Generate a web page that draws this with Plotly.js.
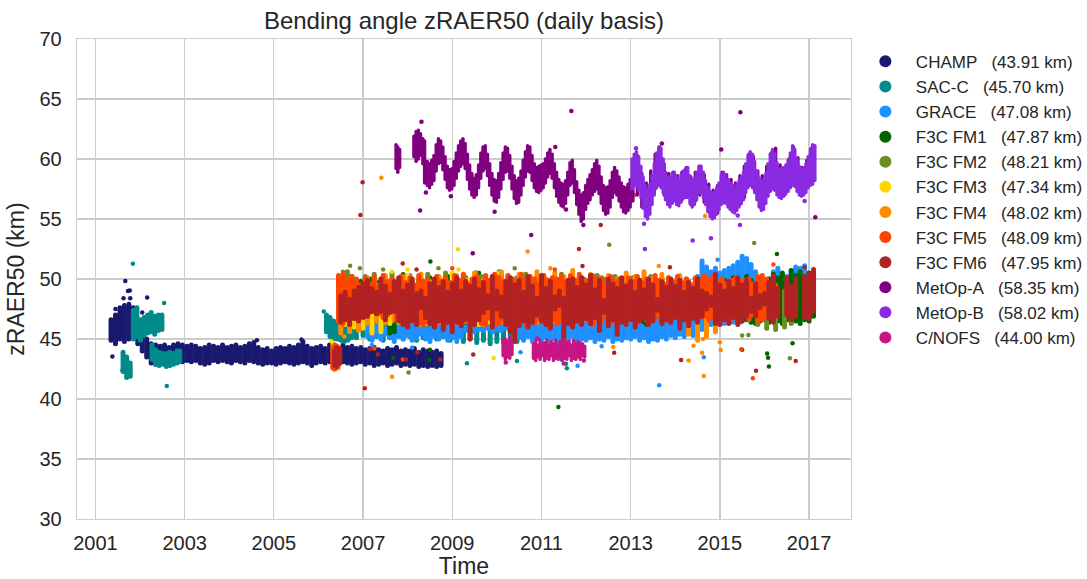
<!DOCTYPE html>
<html><head><meta charset="utf-8">
<script src="https://cdn.plot.ly/plotly-3.0.1.min.js"></script>
<style>html,body{margin:0;padding:0;background:#fff;} #chart .scatterlayer .js-line{stroke-linecap:round;}</style>
</head><body><div id="chart" style="width:1087px;height:579px;"></div>
<script>
// ---------- legend labels ----------
const seriesNames = ['CHAMP','SAC-C','GRACE','F3C FM1','F3C FM2','F3C FM3','F3C FM4','F3C FM5','F3C FM6','MetOp-A','MetOp-B','C/NOFS'];
const seriesMeans = ['43.91','45.70','47.08','47.87','48.21','47.34','48.02','48.09','47.95','58.35','58.02','44.00'];
const seriesColors = ['#191970','#008B8B','#1E90FF','#006400','#6B8E23','#FFD700','#FF8C00','#FF4500','#B22222','#800080','#8A2BE2','#C71585'];
const xTickYears = [2001,2003,2005,2007,2009,2011,2013,2015,2017];

// ---------- CHAMP (daily clouds read as vertical extents) ----------
const champX = [2001.35,2001.45,2001.55,2001.65,2001.75,2001.85,2001.95,2002.05,2002.15,2002.25,2002.35,2002.45,2002.55,2002.65,2002.75,2002.85,2002.95,2003.05,2003.15,2003.25,2003.35,2003.45,2003.55,2003.65,2003.75,2003.85,2003.95,2004.05,2004.15,2004.25,2004.35,2004.45,2004.55,2004.65,2004.75,2004.85,2004.95,2005.05,2005.15,2005.25,2005.35,2005.45,2005.55,2005.65,2005.75,2005.85,2005.95,2006.05,2006.15,2006.25,2006.35,2006.45,2006.55,2006.65,2006.75,2006.85,2006.95,2007.05,2007.15,2007.25,2007.35,2007.45,2007.55,2007.65,2007.75,2007.85,2007.95,2008.05,2008.15,2008.25,2008.35,2008.45,2008.55,2008.65,2008.75];
const champLo = [44.9,44.6,45.0,44.8,45.0,45.2,44.6, 44.0,43.5,43.0,42.9,43.0,43.1,43.0,43.2,43.2,43.1, 43.2,43.1,43.2,43.0,42.9,43.0,43.2,43.1,43.2,43.1, 43.0,43.2,43.1,43.0,43.2,43.1,43.0,42.9,43.0,43.0, 42.9,43.0,43.1,43.0,42.9,43.0,43.1,43.0,42.8,43.0, 43.1,43.0,43.1,43.0,43.0,43.1,43.0,42.9,43.0,43.1, 42.9,43.0,42.8,42.9,43.0,42.8,42.9,43.0,42.8,42.9, 42.8,42.9,42.7,42.8,42.7,42.8,42.7,42.8];
const champHi = [46.6,47.0,47.6,47.8,47.9,47.6,46.3, 45.6,45.0,44.6,44.5,44.4,44.5,44.3,44.5,44.6,44.5, 44.4,44.5,44.4,44.2,44.3,44.5,44.4,44.3,44.5,44.3, 44.4,44.5,44.3,44.4,44.6,44.7,44.3,44.1,44.2,44.0, 44.2,44.3,44.2,44.4,44.3,44.5,44.8,44.4,44.2,44.3, 44.4,44.2,44.5,44.3,44.2,44.5,44.3,44.4,44.2,44.3, 44.1,44.2,44.3,44.1,44.0,44.2,44.1,44.3,44.0,44.1, 44.0,44.2,43.9,44.1,44.0,43.9,44.0,43.8];
const champOutX = [2001.38,2001.61,2001.67,2001.73,2001.77,2001.63,2001.78,2002.16,2004.62,2005.62,2002.05,2001.45];
const champOutY = [43.55,42.4,49.83,49.0,49.05,48.4,48.4,48.45,44.9,44.95,47.2,47.5];

// ---------- SAC-C ----------
const sacX = [2001.62,2001.70,2001.78, 2001.85,2001.93,2002.01,2002.09,2002.17,2002.25,2002.33,2002.41,2002.49, 2002.27,2002.35,2002.43,2002.51,2002.59,2002.67,2002.75,2002.83,2002.89, 2006.18,2006.26,2006.34,2006.42,2006.50,2006.58,2006.66,2006.74, 2006.85,2007.0,2007.15,2007.3,2007.45,2007.6,2007.75,2007.9,2008.05,2008.2,2008.35,2008.5,2008.65,2008.8,2008.95,2009.1,2009.25,2009.4,2009.55,2009.7,2009.85,2010.0,2010.15,2010.3,2010.45];
const sacLo = [42.3,41.8,41.9, 45.0,45.2,44.9,45.3,45.5,45.6,45.4,45.7,45.8, 43.3,42.9,42.8,42.9,42.7,42.8,42.9,43.0,43.1, 45.6,45.2,45.0,45.0,44.9,44.8,44.9,45.1, 45.1,45.3,45.0,45.2,44.9,45.1,45.3,45.0,45.2,44.9,45.1,45.3,45.0,45.2,44.9,45.1,44.8,45.0,44.7,44.9,44.6,44.8,44.7,44.9,44.8];
const sacHi = [43.9,43.5,43.0, 47.4,47.6,46.6,46.8,47.0,47.2,46.9,47.0,47.0, 44.5,44.1,43.9,43.8,43.8,43.9,43.8,44.0,44.0, 47.0,46.8,46.5,46.2,46.0,46.2,46.0,45.8, 46.4,46.5,46.3,46.4,46.2,46.5,46.3,46.4,46.2,46.5,46.3,46.4,46.2,46.5,46.3,46.4,46.2,46.5,46.3,46.4,46.2,46.5,46.3,46.1,46.0];
const sacOutX = [2001.84,2002.54,2002.6,2009.33,2010.45,2011.57,2011.55,2011.45,2006.12];
const sacOutY = [51.28,48.0,41.08,42.97,43.17,42.56,42.94,43.3,47.3];

// ---------- GRACE ----------
const graceX = [2007.1,2007.2,2007.3,2007.4,2007.5,2007.6,2007.7,2007.8,2007.9,
 2008.0,2008.1,2008.2,2008.3,2008.4,2008.5,2008.6,2008.7,2008.8,2008.9,
 2009.0,2009.1,2009.2,2009.3,2009.4,2009.5,2009.6,2009.7,2009.8,2009.9,
 2010.0,2010.1,2010.2,2010.3,2010.4,2010.5,2010.6,2010.7,2010.8,2010.9,
 2011.0,2011.1,2011.2,2011.3,2011.4,2011.5,2011.6,2011.7,2011.8,2011.9,
 2012.0,2012.1,2012.2,2012.3,2012.4,2012.5,2012.6,2012.7,2012.8,2012.9,
 2013.0,2013.1,2013.2,2013.3,2013.4,2013.5,2013.6,2013.7,2013.8,2013.9,
 2014.0,2014.1,2014.2,2014.3,2014.4,2014.5,2014.6,2014.7,2014.8,2014.9,
 2015.0,2015.1,2015.2,2015.3,2015.4,2015.5,2015.6,2015.7,2015.8,2015.9,
 2016.0,2016.1,2016.2,2016.3,2016.4,2016.5,2016.6,2016.7,2016.8,2016.9];
const graceLo = [45.2,44.9,45.3,45.0,45.4,45.1,44.8,45.2,45.0,
 45.3,44.9,45.1,45.4,45.0,44.8,45.2,45.0,45.3,44.9,
 45.1,44.8,45.2,45.7,45.9,45.6,45.8,45.7,45.9,45.6,
 45.8,45.7,45.9,45.6,45.8,45.1,44.9,45.2,44.8,45.0,
 44.9,45.1,44.8,45.0,44.7,45.1,44.9,45.2,44.8,45.0,
 44.9,45.1,44.8,45.0,44.9,45.2,44.8,45.0,44.9,45.1,
 45.0,45.2,44.9,45.1,44.8,45.0,44.9,45.2,45.0,45.3,
 45.1,45.4,45.2,45.5,45.3,45.6,45.8,46.0,46.2,46.3,
 46.4,46.3,46.5,46.4,46.6,46.5,46.7,46.6,46.8,46.6,
 46.9,46.7,46.8,46.6,46.9,46.7,46.8,46.9,46.7,46.8];
const graceHi = [46.8,47.0,46.9,47.2,47.0,47.3,47.1,46.9,47.2,
 47.0,47.3,47.1,46.9,47.2,47.0,47.3,47.1,46.9,47.2,
 47.1,47.3,47.0,46.9,47.2,47.1,47.3,47.0,46.9,47.2,
 47.0,47.2,47.1,46.9,47.3,47.0,47.2,47.1,46.9,47.2,
 47.1,47.3,47.0,46.9,47.2,47.0,47.3,47.1,46.9,47.2,
 47.0,47.3,47.1,46.9,47.2,47.0,47.3,47.1,46.9,47.2,
 47.0,47.3,47.1,46.9,47.2,47.0,47.3,47.1,46.9,47.2,
 47.0,47.3,47.5,48.2,49.0,50.2,51.5,51.0,50.6,50.9,
 50.5,50.7,50.9,51.1,51.4,51.9,51.7,51.2,50.6,50.1,
 49.8,50.0,50.6,50.9,50.4,50.2,50.7,51.0,50.9,51.1];
const graceOutX = [2013.64,2014.64,2010.53,2011.81,2008.1,2012.35,2016.05,2007.2,2014.95];
const graceOutY = [41.14,43.47,43.9,42.78,44.3,44.4,45.9,44.5,51.6];

// ---------- F3C FM1 ----------
const fm1X = [2006.55,2006.75,2006.95,2007.15,2007.35,2007.6,2007.7,2007.9,
 2008.1,2008.3,2008.5,2008.7,2008.9,2009.1,2009.3,2009.5,2009.7,2009.9,
 2010.1,2010.3,2010.5,2010.7,2010.9,2011.1,2011.3,2011.5,2011.7,2011.9,
 2012.1,2012.3,2012.5,2012.7,2012.9,2013.1,2013.3,2013.5,2013.7,2013.9,
 2014.1,2014.3,2014.5,2014.7,2014.9,2015.1,2015.3,2015.5,
 2015.6,2015.7,2015.8,2015.9,2016.0,2016.1,2016.2,2016.3,2016.4,2016.5,2016.6,2016.7,2016.8,2016.9,2017.0,2017.1];
const fm1Lo = [46.5,46.7,46.4,46.6,46.8,45.5,45.6,46.5,
 46.7,46.4,46.6,46.8,46.5,46.7,46.4,46.6,46.8,46.5,
 46.7,46.6,46.8,46.6,46.9,46.7,46.9,46.7,46.9,46.7,
 47.0,46.8,47.0,46.8,47.1,46.9,46.4,47.0,46.9,47.1,
 46.9,47.1,46.9,47.1,46.9,47.1,46.9,47.0,
 46.6,46.4,46.3,46.5,46.6,46.4,46.6,46.5,46.3,46.6,46.4,46.5,46.3,46.6,46.5,46.9];
const fm1Hi = [49.6,50.2,49.8,50.0,49.7,49.0,48.8,50.3,
 49.8,50.0,50.1,49.7,50.2,49.9,50.1,49.8,50.0,49.7,
 50.4,49.9,50.1,49.8,50.0,49.7,50.0,49.8,50.1,49.8,
 50.0,49.7,50.0,49.8,50.1,49.8,50.0,49.7,50.0,49.8,
 50.1,49.8,50.0,49.8,50.1,49.9,50.1,49.8,
 50.2,49.9,49.6,48.9,49.4,50.0,50.4,50.1,50.5,49.8,50.7,50.3,50.6,50.2,50.5,50.4];
const fm1OutX = [2008.51,2011.38,2016.28,2007.68,2008.49,2008.5,2015.5,2016.06,2016.08,2016.1,2016.63,2006.33,2007.9,2013.35,2009.6];
const fm1OutY = [51.45,39.33,52.08,43.44,43.25,44.1,44.1,43.8,43.44,42.7,44.64,42.6,50.4,46.2,50.5];

// ---------- F3C FM2 ----------
const fm2X = [2006.65,2006.85,2007.05,2007.25,2007.45,2007.65,2007.85,2008.05,2008.25,2008.45,2008.65,2008.85,2009.05,2009.25,2009.45,2009.65,2009.85,2010.05,2010.25,2010.45,2010.65,2010.85,2011.05,2011.25,2011.45,2011.65,2011.85,2012.05,2012.25,2012.45,2012.65,2012.85,2013.05,2013.25,2013.45,2013.65,2013.85,2014.05,2014.25,2014.45,2014.65,2014.85,2015.05,2015.25,2015.45,2015.65,2015.85,2016.05,2016.25,2016.45,2016.6];
const fm2Lo = [46.5,46.3,46.6,46.4,46.2,46.5,46.3,46.6,46.4,46.2,46.5,46.3,46.6,46.4,46.2,46.5,46.3,46.6,46.4,46.7,46.5,46.7,46.5,46.8,46.6,46.8,46.6,46.9,46.7,46.9,46.7,47.0,46.8,47.0,46.8,47.0,46.8,47.1,46.9,47.1,46.9,47.1,46.9,47.1,46.4,46.6,46.2,45.9,45.8,46.0,46.3];
const fm2Hi = [50.6,50.0,50.2,50.4,50.1,50.5,50.0,50.3,49.9,50.4,50.1,50.5,50.0,50.3,49.8,50.2,49.9,50.6,50.3,50.1,50.4,50.0,50.3,50.1,50.4,50.0,50.2,49.9,50.3,50.0,50.2,49.9,50.1,49.8,50.2,49.9,50.1,49.8,50.0,49.7,50.0,49.8,50.0,49.7,49.9,49.6,49.8,48.8,48.5,49.0,48.6];
const fm2OutX = [2006.71,2006.93,2008.02,2008.69,2009.54,2012.52,2015.64,2015.5,2016.57,2015.77,2010.4,2007.45,2006.55];
const fm2OutY = [51.1,50.9,42.2,50.9,50.55,52.86,45.33,45.3,43.4,53.0,50.9,50.8,50.6];

// ---------- F3C FM3 ----------
const fm3X = [2006.33,2006.6,2006.8,2007.0,2007.2,2007.4,2007.6,2007.8,2008.0,2008.2,2008.4,2008.6,2008.8,2009.0,2009.2,2009.4,2009.6,2009.8,2010.0,2010.2,2010.4];
const fm3Lo = [43.9,46.2,46.0,45.9,45.5,45.6,46.3,46.4,46.2,46.5,46.3,46.5,46.2,46.4,46.6,46.3,46.2,46.4,46.5,46.4,46.6];
const fm3Hi = [44.6,48.5,47.8,47.6,47.4,47.3,48.6,49.0,50.3,49.4,49.8,49.5,50.0,50.5,49.6,49.9,48.5,49.4,49.8,49.5,49.2];
const fm3OutX = [2009.13,2009.14,2008.0,2009.93,2010.05,2007.65,2006.3];
const fm3OutY = [52.47,50.8,50.8,43.42,50.5,50.6,44.8];

// ---------- F3C FM4 ----------
const fm4X = [2006.35,2006.44,2006.5,2006.7,2006.9,2007.1,2007.3,2007.5,2007.7,2007.9,2008.1,2008.3,2008.5,2008.7,2008.9,2009.1,2009.3,2009.5,2009.7,2009.9,2010.1,2010.3,2010.5,2010.7,2010.9,2011.1,2011.3,2011.5,2011.7,2011.9,2012.1,2012.3,2012.5,2012.7,2012.9,2013.1,2013.3,2013.5,2013.7,2013.9,2014.1,2014.3,2014.5,2014.7,2014.9];
const fm4Lo = [42.5,42.6,45.5,45.6,45.7,46.3,46.5,46.4,46.6,46.3,46.5,46.2,46.6,46.4,46.7,46.3,46.5,46.6,46.2,46.6,46.4,46.7,46.3,46.5,46.4,46.7,46.5,46.3,46.6,46.4,46.8,46.5,46.7,46.4,46.9,46.6,46.8,46.5,47.0,46.7,46.9,45.4,44.9,45.2,45.6];
const fm4Hi = [44.4,44.0,49.8,49.6,48.9,50.1,49.5,50.3,49.7,50.2,49.9,50.4,49.8,50.2,49.6,50.3,50.0,50.5,49.9,50.2,50.6,49.8,50.4,50.1,50.6,50.0,50.5,50.2,50.7,50.1,50.4,49.9,50.3,50.0,50.5,50.2,50.6,50.1,50.4,49.9,50.3,49.8,49.5,49.9,50.0];
const fm4OutX = [2007.41,2007.65,2010.69,2013.63,2014.64,2014.3,2014.41,2014.62,2014.6,2015.0,2015.02,2012.61,2014.67,2006.58,2011.2];
const fm4OutY = [58.44,41.86,52.3,51.08,41.92,43.2,44.44,45.0,43.86,44.72,44.08,44.33,55.25,45.2,50.9];

// ---------- F3C FM5 ----------
const fm5X = [2006.32,2006.37,2006.42,2006.46,
 2006.45,2006.55,2006.65,2006.75,2006.85,2006.95,
 2007.05,2007.15,2007.25,2007.35,2007.45,2007.55,2007.65,2007.75,2007.85,2007.95,
 2008.05,2008.15,2008.25,2008.35,2008.45,2008.55,2008.65,2008.75,2008.85,2008.95,
 2009.05,2009.15,2009.25,2009.35,2009.45,2009.55,2009.65,2009.75,2009.85,2009.95,
 2010.05,2010.15,2010.25,2010.35,2010.45,2010.55,2010.65,2010.75,2010.85,2010.95,
 2011.05,2011.15,2011.25,2011.35,2011.45,2011.55,2011.65,2011.75,2011.85,2011.95,
 2012.05,2012.15,2012.25,2012.35,2012.45,2012.55,2012.65,2012.75,2012.85,2012.95,
 2013.05,2013.15,2013.25,2013.35,2013.45,2013.55,2013.65,2013.75,2013.85,2013.95,
 2014.05,2014.15,2014.25,2014.35,2014.45,2014.55,2014.65,2014.75,2014.85,2014.95,
 2015.05,2015.15,2015.25,2015.35,2015.45,2015.55,2015.65,2015.75,2015.85,2015.95,
 2016.05,2016.15,2016.25];
const fm5Lo = [42.6,42.5,42.7,42.9,
 46.5,46.3,46.6,46.9,46.7,47.1,
 46.9,47.2,47.4,47.1,46.8,47.0,47.3,46.6,46.4,46.7,
 46.5,46.9,46.3,46.2,46.4,46.7,46.3,46.6,46.2,46.4,
 46.8,46.3,46.5,46.9,46.4,46.6,46.3,46.2,46.7,46.1,
 46.3,46.6,46.4,46.0,46.5,46.8,46.2,46.6,46.3,46.7,
 46.4,46.1,46.6,46.3,46.5,46.8,46.2,46.6,46.4,46.9,
 46.5,46.2,46.7,46.4,46.9,46.6,46.3,46.8,46.5,47.0,
 46.7,46.4,46.9,46.6,47.1,46.7,47.0,46.5,47.0,46.8,
 47.2,46.7,47.0,46.6,47.1,46.8,46.9,46.6,46.8,47.1,
 46.7,47.0,46.6,47.1,46.8,47.2,46.7,47.0,46.5,46.6,
 46.8,47.1,47.3];
const fm5Hi = [44.3,44.5,44.4,44.2,
 50.3,50.4,50.0,50.2,49.9,49.5,
 50.1,49.6,50.2,49.4,50.3,49.8,50.0,49.6,50.2,49.7,
 50.1,49.5,50.3,49.8,50.0,49.6,50.2,49.8,50.1,49.7,
 50.3,49.9,50.4,49.6,50.0,50.2,49.7,50.3,49.9,50.4,
 50.1,49.8,50.3,50.0,49.7,50.4,49.9,50.2,50.0,49.6,
 50.3,49.9,50.1,50.0,50.2,49.8,50.3,49.9,50.4,50.0,
 49.7,50.3,49.9,50.1,49.6,50.2,49.8,50.0,49.5,50.1,
 49.8,50.2,49.7,50.0,49.6,50.3,49.9,49.6,50.1,49.8,
 50.2,49.7,50.0,49.5,50.1,49.9,50.3,50.0,50.2,49.8,
 50.0,49.6,49.9,50.1,49.7,49.9,50.0,49.6,50.2,50.3,
 50.0,49.7,49.5];
const fm5OutX = [2007.89,2015.74,2015.48,2016.2,2013.08,2011.3,2009.0,2007.25];
const fm5OutY = [43.3,41.72,44.14,51.2,57.0,50.8,50.9,44.2];

// ---------- F3C FM6 ----------
const fm6X = [2006.36,2006.40,2006.44,2006.48,
 2006.5,2006.6,2006.7,2006.8,2006.9,
 2007.0,2007.1,2007.2,2007.3,2007.4,2007.5,2007.6,2007.7,2007.8,2007.9,
 2008.0,2008.1,2008.2,2008.3,2008.4,2008.5,2008.6,2008.7,2008.8,2008.9,
 2009.0,2009.1,2009.2,2009.3,2009.4,2009.5,2009.6,2009.7,2009.8,2009.9,
 2010.0,2010.1,2010.2,2010.3,2010.4,2010.5,2010.6,2010.7,2010.8,2010.9,
 2011.0,2011.1,2011.2,2011.3,2011.4,2011.5,2011.6,2011.7,2011.8,2011.9,
 2012.0,2012.1,2012.2,2012.3,2012.4,2012.5,2012.6,2012.7,2012.8,2012.9,
 2013.0,2013.1,2013.2,2013.3,2013.4,2013.5,2013.6,2013.7,2013.8,2013.9,
 2014.0,2014.1,2014.2,2014.3,2014.4,2014.5,2014.6,2014.7,2014.8,2014.9,
 2015.0,2015.1,2015.2,2015.3,2015.4,2015.5,2015.6,2015.7,2015.8,2015.9,
 2016.0,2016.1,2016.2,2016.3,2016.5,2016.6,2016.7,2016.9,
 2017.0,2017.1];
const fm6Lo = [42.8,42.7,42.9,43.0,
 46.4,46.6,46.2,46.7,46.5,
 46.8,46.9,47.3,47.1,47.3,46.6,47.2,47.3,46.5,46.2,
 46.0,46.5,46.2,47.6,46.8,46.3,46.0,46.5,45.8,46.4,
 45.6,46.4,46.1,46.6,45.0,46.2,46.6,47.2,47.6,46.0,
 47.5,46.9,46.2,45.6,44.8,46.1,46.5,46.0,46.4,47.0,
 46.5,46.2,45.9,47.5,47.8,44.3,46.3,46.0,46.5,46.2,
 46.7,46.3,46.8,45.7,47.2,46.1,46.6,45.4,46.4,46.2,
 46.6,46.0,46.5,46.7,46.2,46.5,47.4,46.3,46.6,46.4,
 46.8,45.9,46.6,46.1,46.7,46.4,46.9,47.5,47.8,46.3,
 46.2,46.6,46.3,46.8,46.2,46.5,46.9,47.3,46.9,47.6,
 47.9,46.7,46.4,46.9,47.0,46.6,46.9,46.8,
 46.7,47.3];
const fm6Hi = [44.0,44.3,44.1,44.2,
 48.6,48.9,48.3,49.0,49.3,
 49.6,49.9,49.2,48.9,50.0,49.4,48.7,49.8,50.1,49.0,
 49.5,50.0,48.8,49.0,48.4,49.6,50.0,49.3,49.8,48.9,
 49.6,50.1,49.0,49.8,49.4,50.0,49.1,49.7,48.6,50.2,
 49.0,48.5,49.8,50.1,49.5,49.9,48.9,50.2,49.4,48.4,
 50.3,49.2,49.8,48.5,49.0,48.4,49.9,50.0,49.3,50.1,
 49.5,50.3,49.1,49.9,48.2,50.0,49.6,49.2,50.1,49.4,
 49.8,48.9,49.9,49.1,50.0,49.5,48.3,49.8,49.3,50.0,
 49.4,49.9,48.9,49.7,49.2,50.0,49.0,48.8,48.5,50.4,
 49.5,49.0,49.8,49.2,50.1,49.5,49.9,48.4,49.6,48.6,
 48.8,49.7,50.3,49.2,50.1,49.4,50.0,50.2,
 50.4,50.8];
const fm6OutX = [2006.99,2006.94,2007.04,2007.89,2008.2,2009.47,2011.92,2012.63,2014.13,2015.81,2016.7,2013.88,2016.9,2007.16,2007.33,2007.96,2008.22,2008.73,2011.84,2012.33];
const fm6OutY = [58.06,55.33,40.9,51.3,50.8,43.7,51.08,43.86,43.25,42.36,43.17,50.97,50.97,44.14,43.7,43.3,43.9,43.3,52.5,54.5];

// ---------- MetOp-A ----------
const metaX = [2007.74,2007.78,2007.82,
 2008.14,2008.19,2008.24,2008.29,2008.34,2008.38,2008.44,2008.49,2008.54,2008.59,2008.64,2008.69,2008.74,2008.79,2008.84,2008.89,2008.94,2008.99,
 2009.04,2009.09,2009.14,2009.19,2009.24,2009.29,2009.34,2009.39,2009.44,2009.49,2009.54,2009.59,2009.64,2009.69,2009.74,2009.79,2009.84,2009.89,2009.94,2009.99,
 2010.04,2010.09,2010.14,2010.19,2010.24,2010.29,2010.34,2010.39,2010.44,2010.49,2010.54,2010.59,2010.64,2010.69,2010.74,2010.79,2010.84,2010.89,2010.94,2010.99,
 2011.04,2011.09,2011.14,2011.19,2011.24,2011.29,2011.34,2011.39,2011.44,2011.49,2011.54,2011.59,2011.64,2011.69,2011.74,2011.79,2011.84,2011.89,2011.94,2011.99,
 2012.04,2012.09,2012.14,2012.19,2012.24,2012.29,2012.34,2012.39,2012.44,2012.49,2012.54,2012.59,2012.64,2012.69,2012.74,2012.79,2012.84,2012.89,2012.94,2012.99,
 2013.05,2013.15,2013.25,2013.35,2013.45,2013.55,2013.65,2013.75,2013.85,2013.95,
 2014.05,2014.15,2014.25,2014.35,2014.45,2014.55,2014.65,2014.75,2014.85,2014.95,
 2015.05,2015.15,2015.25,2015.35,2015.45,2015.55,2015.65,2015.75,2015.85,2015.95,
 2016.05,2016.15,2016.25,2016.35,2016.45,2016.55,2016.65,2016.75,2016.85,2016.95,2017.05];
const metaLo = [59.2,58.9,59.3,
 60.2,59.8,60.0,60.3,59.6,58.0,57.8,57.6,57.9,58.2,59.0,59.6,59.7,59.1,58.3,57.6,57.4,57.5,
 57.8,58.4,59.0,59.4,59.6,59.2,58.3,57.5,57.0,56.8,57.0,57.6,58.4,59.0,59.2,58.6,57.8,57.0,56.5,56.4,
 56.8,57.5,58.3,58.9,59.0,58.4,57.5,56.7,56.3,56.4,57.0,57.8,58.5,59.0,58.9,58.2,57.6,57.3,57.2,57.4,
 57.6,58.0,58.5,58.8,58.4,57.6,56.9,56.4,56.1,56.0,56.3,57.0,57.8,58.0,57.2,56.2,55.4,54.8,55.0,55.8,
 56.3,56.6,57.0,57.3,57.5,57.1,56.3,55.7,55.4,55.5,56.0,56.8,57.2,57.0,56.5,56.0,55.6,55.5,55.7,56.0,
 56.5,57.0,56.0,55.6,56.4,57.5,58.2,57.0,56.2,56.5,
 56.3,56.6,56.8,56.2,56.5,57.0,56.4,55.6,55.2,55.5,
 56.3,56.6,56.0,55.8,56.2,56.8,57.8,57.6,56.8,56.4,
 57.0,57.8,58.0,57.3,57.0,57.6,58.2,57.8,57.2,57.6,58.0];
const metaHi = [61.2,61.0,60.8,
 61.9,62.3,62.4,62.1,61.7,61.5,59.8,59.6,59.9,60.3,61.2,61.7,61.5,61.0,60.2,59.4,59.1,59.2,
 59.8,60.5,61.1,61.5,61.7,61.3,60.4,59.5,58.8,58.4,58.7,59.5,60.5,61.0,61.1,60.4,59.6,58.8,58.3,58.2,
 58.8,59.7,60.5,61.0,60.9,60.3,59.4,58.6,58.2,58.4,59.0,59.9,60.6,61.1,61.0,60.3,59.6,59.3,59.4,59.5,
 59.6,60.0,60.5,60.8,60.4,59.6,58.9,58.3,58.0,57.9,58.2,58.9,59.7,59.9,59.1,58.1,57.4,57.0,57.2,57.8,
 58.3,58.7,59.1,59.6,59.9,59.4,58.5,57.8,57.6,57.7,58.2,58.9,59.3,59.0,58.5,58.0,57.7,57.6,57.9,58.3,
 59.8,60.3,58.8,58.0,59.0,60.4,61.0,59.6,58.8,58.9,
 58.6,58.9,59.3,58.5,58.9,59.4,58.7,57.9,57.4,57.8,
 58.9,58.7,58.3,58.0,58.6,59.4,60.4,60.2,59.0,58.6,
 59.4,60.5,60.9,59.5,59.2,60.0,61.0,60.1,59.3,59.9,60.9];
const metaOutX = [2008.31,2008.28,2009.95,2011.67,2011.55,2010.77,2009.46,2015.46,2015.03,2017.14,2008.41,2008.97,2011.31,2011.94,2013.7];
const metaOutY = [63.1,55.7,55.6,64.0,55.8,53.67,52.14,63.9,60.8,55.15,57.2,56.9,61.0,54.5,61.3];

// ---------- MetOp-B ----------
const metbX = [2013.03,2013.08,2013.13,2013.18,2013.23,2013.28,2013.33,2013.38,2013.43,2013.48,2013.53,2013.58,2013.63,2013.68,2013.73,2013.78,2013.83,2013.88,2013.93,2013.98,
 2014.03,2014.08,2014.13,2014.18,2014.23,2014.28,2014.33,2014.38,2014.43,2014.48,2014.53,2014.58,2014.63,2014.68,2014.73,2014.78,2014.83,2014.88,2014.93,2014.98,
 2015.03,2015.08,2015.13,2015.18,2015.23,2015.28,2015.33,2015.38,2015.43,2015.48,2015.53,2015.58,2015.63,2015.68,2015.73,2015.78,2015.83,2015.88,2015.93,2015.98,
 2016.03,2016.08,2016.13,2016.18,2016.23,2016.28,2016.33,2016.38,2016.43,2016.48,2016.53,2016.58,2016.63,2016.68,2016.73,2016.78,2016.83,2016.88,2016.93,2016.98,
 2017.03,2017.08,2017.13];
const metbLo = [57.5,57.8,57.8,57.4,56.8,55.9,55.2,55.0,55.4,56.2,57.0,57.6,57.8,57.6,57.2,56.6,56.2,56.0,56.3,56.5,
 56.2,56.1,56.4,56.7,56.9,56.8,56.3,56.0,56.2,56.6,57.1,57.2,56.8,56.2,55.6,55.2,55.0,55.1,55.4,55.8,
 56.2,56.4,56.3,56.0,55.8,55.6,55.5,55.7,56.0,56.3,56.6,57.2,57.6,57.8,57.6,57.2,56.6,56.0,55.7,55.8,
 56.3,56.9,57.3,57.5,57.4,57.0,56.8,56.7,56.9,57.1,57.3,57.6,57.8,57.7,57.3,57.0,56.9,57.0,57.2,57.6,
 57.8,57.9,58.2];
const metbHi = [60.0,60.4,60.6,60.2,59.4,58.5,57.8,57.5,57.9,58.6,59.6,60.5,61.0,60.9,60.0,58.9,58.5,58.4,58.8,58.9,
 58.5,58.3,58.7,59.0,59.2,59.3,58.6,58.2,58.4,58.9,59.4,59.4,58.9,58.2,57.6,57.3,57.1,57.3,57.6,58.0,
 58.6,58.9,58.7,58.3,58.0,57.8,57.6,57.9,58.2,58.5,58.9,59.6,60.3,60.6,60.4,59.8,59.0,58.4,58.1,58.3,
 58.8,59.6,60.4,60.8,60.5,59.7,59.2,59.0,59.3,59.5,59.9,60.5,61.1,60.8,60.0,59.4,59.1,59.3,59.6,60.2,
 60.8,61.2,61.1];
const metbOutX = [2013.32,2014.39,2014.8,2015.45,2013.3,2013.12,2016.9,2015.4];
const metbOutY = [52.5,53.2,53.4,54.5,54.6,60.9,56.5,55.3];

// ---------- C/NOFS ----------
const cnofsX = [2010.14,2010.19,2010.24,2010.29,2010.34,2010.82,2010.87,2010.92,2010.97,2011.02,2011.07,2011.12,2011.17,2011.22,2011.27,2011.32,2011.37,2011.42,2011.47,2011.52,2011.57,2011.62,2011.67,2011.72,2011.77,2011.82,2011.87,2011.92,2011.97];
const cnofsLo = [43.6,43.3,43.5,43.4,43.7,43.4,43.2,43.5,43.3,43.6,43.2,43.4,43.3,43.6,43.2,43.4,43.3,43.5,43.2,43.4,43.3,43.6,43.2,43.4,43.3,43.5,43.3,43.6,43.5];
const cnofsHi = [44.9,45.0,44.8,45.1,44.7,44.6,44.8,44.5,44.9,44.6,44.7,44.9,44.5,44.8,44.6,44.9,44.5,44.8,44.6,44.9,44.7,44.8,44.5,44.9,44.6,44.8,44.7,44.6,44.4];
const cnofsOutX = [2010.2,2011.5,2010.9,2011.95];
const cnofsOutY = [43.05,42.95,45.05,43.2];

// ---------- build traces ----------
function bandTrace(xs, lo, hi, color, width) {
  const X = [], Y = [];
  for (let i = 0; i < xs.length; i++) { X.push(xs[i], xs[i], null); Y.push(lo[i], hi[i], null); }
  return {type:'scatter', mode:'lines', x:X, y:Y, line:{color:color, width:width},
          showlegend:false, hoverinfo:'skip', connectgaps:false};
}
function pointTrace(idx, xs, ys) {
  return {type:'scatter', mode:'markers', x:xs, y:ys,
          name: seriesNames[idx] + '\u00a0\u00a0\u00a0(' + seriesMeans[idx] + ' km)',
          marker:{color:seriesColors[idx], size:4.5}, hoverinfo:'skip'};
}
const bands = [
  [champX, champLo, champHi, 5], [sacX, sacLo, sacHi, 5], [graceX, graceLo, graceHi, 5],
  [fm1X, fm1Lo, fm1Hi, 5], [fm2X, fm2Lo, fm2Hi, 5], [fm3X, fm3Lo, fm3Hi, 5],
  [fm4X, fm4Lo, fm4Hi, 5], [fm5X, fm5Lo, fm5Hi, 5], [fm6X, fm6Lo, fm6Hi, 5],
  [metaX, metaLo, metaHi, 3.4], [metbX, metbLo, metbHi, 3.4], [cnofsX, cnofsLo, cnofsHi, 3.4]
];
const points = [
  [champOutX, champOutY], [sacOutX, sacOutY], [graceOutX, graceOutY],
  [fm1OutX, fm1OutY], [fm2OutX, fm2OutY], [fm3OutX, fm3OutY],
  [fm4OutX, fm4OutY], [fm5OutX, fm5OutY], [fm6OutX, fm6OutY],
  [metaOutX, metaOutY], [metbOutX, metbOutY], [cnofsOutX, cnofsOutY]
];
const data = [];
for (let i = 0; i < bands.length; i++) {
  const b = bands[i];
  data.push(bandTrace(b[0], b[1], b[2], seriesColors[i], b[3]));
  data.push(pointTrace(i, points[i][0], points[i][1]));
}

const txt = '#262626', grid = '#cccccc';
const layout = {
  width:1087, height:579,
  margin:{l:77, r:236, t:39, b:60, pad:0, autoexpand:false},
  paper_bgcolor:'#ffffff', plot_bgcolor:'#ffffff',
  font:{family:'"Liberation Sans", Arial, sans-serif', color:txt},
  title:{text:'Bending angle zRAER50 (daily basis)', font:{size:24, color:txt},
         x:0.5, xref:'paper', xanchor:'center', y:1-21/579, yref:'container', yanchor:'middle'},
  xaxis:{range:[2000.587, 2017.94], tickmode:'array', tickvals:xTickYears, ticktext:xTickYears.map(String),
         showgrid:true, gridcolor:grid, gridwidth:1.3, zeroline:false,
         showline:true, mirror:true, linecolor:grid, linewidth:1.3, ticks:'',
         tickfont:{size:20, color:txt}, ticklabelstandoff:6,
         title:{text:'Time', font:{size:23, color:txt}, standoff:4}, automargin:false, fixedrange:true},
  yaxis:{range:[30,70], tickmode:'linear', tick0:30, dtick:5,
         showgrid:true, gridcolor:grid, gridwidth:1.3, zeroline:false,
         showline:true, mirror:true, linecolor:grid, linewidth:1.3, ticks:'',
         tickfont:{size:20, color:txt}, ticklabelstandoff:10,
         title:{text:'zRAER50 (km)', font:{size:23, color:txt}, standoff:8}, automargin:false, fixedrange:true},
  showlegend:true,
  legend:{x:1.005, xanchor:'left', y:0.99, yanchor:'top', font:{size:17, color:txt},
          itemsizing:'constant', itemwidth:51, bgcolor:'rgba(0,0,0,0)', borderwidth:0, tracegroupgap:0},
  hovermode:false
};
Plotly.newPlot('chart', data, layout, {displayModeBar:false, staticPlot:true});
</script></body></html>
